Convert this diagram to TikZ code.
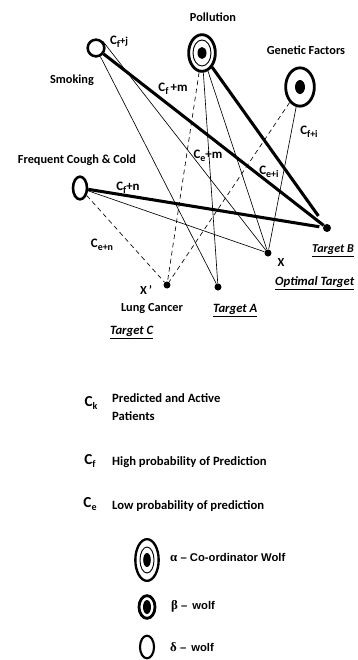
\documentclass[tikz,border=0pt]{standalone}
\usepackage{fontspec}
\setmainfont{Carlito}
\newfontfamily\arialfont{Liberation Sans}
\newfontfamily\greekfont{Liberation Serif}
\usepackage{tikz}
\usetikzlibrary{shapes.geometric, positioning}

\newcommand{\Cl}[2]{C\raisebox{-0.45ex}{\fontsize{8.5}{9}\selectfont #1}#2}

\tikzset{
    lbl/.style={font=\fontsize{10.5}{12}\selectfont\bfseries, inner sep=0pt},
    clbl/.style={font=\fontsize{11}{12}\selectfont\bfseries, inner sep=0pt},
    leg/.style={font=\fontsize{10.8}{13}\selectfont\bfseries, inner sep=0pt, anchor=west},
    tgt/.style={font=\fontsize{10.8}{12}\selectfont\bfseries\itshape, inner sep=0pt, anchor=west},
    wtxt/.style={font=\fontsize{9.6}{11}\selectfont\arialfont\bfseries, inner sep=0pt, anchor=west},
    dot/.style={circle, fill, inner sep=0pt, minimum size=0.21cm},
    wolf/.style={ellipse, draw, inner sep=0pt},
    thk/.style={line width=2.6pt},
    thn/.style={line width=0.55pt},
    dsh/.style={line width=0.55pt, dash pattern=on 4pt off 3pt}
}

\begin{document}
\begin{tikzpicture}[x=0.03cm, y=-0.03cm]
            \useasboundingbox (0,0) rectangle (357,660);

            % wolves
            \node[wolf, line width=2.2pt, minimum width=0.5cm, minimum height=0.5cm] (smk) at (96,48) {};
            \node[wolf, line width=2.4pt, minimum width=0.8cm, minimum height=1.1cm] (pol) at (202,53) {};
            \draw[line width=0.8pt] (pol.center) ellipse [x radius=9, y radius=13];
            \fill (pol.center) ellipse [x radius=4.5, y radius=6];
            \node[wolf, line width=2.4pt, minimum width=0.86cm, minimum height=1.15cm] (gen) at (300,87) {};
            \fill (gen.center) ellipse [x radius=5, y radius=7];
            \node[wolf, line width=2.2pt, minimum width=0.42cm, minimum height=0.68cm] (cgh) at (80,188) {};

            % targets
            \node[dot, minimum size=0.24cm] (tgB) at (327,228) {};
            \node[dot] (xopt) at (268,253) {};
            \node[dot] (xlc) at (167,285) {};
            \node[dot] (tgA) at (218,287) {};

            % thick links
            \draw[thk] (smk) -- (tgB);
            \draw[thk, shorten >=9pt] (pol) -- (tgB);
            \draw[thk, shorten >=3pt] (cgh) -- (tgB);

            % thin links
            \draw[thn] (smk) -- (tgA);
            \draw[thn] (smk.north east) -- (xopt);
            \draw[thn] (pol) -- (tgA);
            \draw[thn] (pol) -- (xopt);
            \draw[thn] (gen) -- (xopt);
            \draw[thn] (cgh) -- (xopt);

            % dashed links
            \draw[dsh] (pol) -- (xlc);
            \draw[dsh] (gen) -- (xlc);
            \draw[dsh] (cgh) -- (xlc);

            % labels
            \node[lbl] (lpol) at (213,17) {Pollution};
            \node[lbl] (lgen) at (306,50) {Genetic Factors};
            \node[lbl] (lsmk) at (72,80) {Smoking};
            \node[lbl] (lcgh) at (77,160) {Frequent Cough \& Cold};

            \node[clbl] (cfj) at (119,42) {\Cl{f}{\fontsize{9}{9}\selectfont+j}};
            \node[clbl] (cfm) at (173,89) {\Cl{f}{\,+m}};
            \node[clbl] (cem) at (208,156) {\Cl{e}{+m}};
            \node[clbl] (cei) at (269,172) {\Cl{e+i}{}};
            \node[clbl] (cfi) at (309,132) {\Cl{f+i}{}};
            \node[clbl] (cfn) at (128,188) {\Cl{f}{+n}};
            \node[clbl] (cen) at (102,245) {\Cl{e+n}{}};

            \node[lbl] (lx) at (281,263) {X};
            \node[lbl] (lxp) at (146,290) {X\,'};
            \node[lbl] (llc) at (152,309) {Lung Cancer};
            \node[tgt] (ltgC) at (110,333) {\underline{Target C}};
            \node[tgt] (ltgA) at (213,311) {\underline{Target A}};
            \node[tgt, font=\fontsize{10.3}{12}\selectfont\bfseries\itshape] (ltgB) at (312,251) {\underline{Target B}};
            \node[tgt] (lopt) at (275,283) {\underline{Optimal Target}};

            % legend
            \node[lbl, font=\fontsize{13}{14}\selectfont\bfseries] (ck) at (91,403) {\Cl{k}{}};
            \node[leg, align=left] (lck) at (112,407) {Predicted and Active\\[3pt]Patients};
            \node[lbl, font=\fontsize{13}{14}\selectfont\bfseries] (cf) at (90,461) {\Cl{f}{}};
            \node[leg] (lcf) at (112,462) {High probability of Prediction};
            \node[lbl, font=\fontsize{13}{14}\selectfont\bfseries] (ce) at (90,504) {\Cl{e}{}};
            \node[leg] (lce) at (112,506) {Low probability of prediction};

            \node[wolf, line width=2pt, minimum width=0.7cm, minimum height=1.25cm] (walpha) at (147,560) {};
            \draw[line width=0.8pt] (walpha.center) ellipse [x radius=7, y radius=13];
            \fill (walpha.center) ellipse [x radius=3.8, y radius=7];
            \node[wolf, line width=2.4pt, minimum width=0.48cm, minimum height=0.68cm] (wbeta) at (147,607) {};
            \fill (wbeta.center) ellipse [x radius=4, y radius=7];
            \node[wolf, line width=1.8pt, minimum width=0.42cm, minimum height=0.68cm] (wdelta) at (147,647) {};

            \node[wtxt] (lalpha) at (170,557) {{\greekfont\fontsize{11}{11}\selectfont α} \textendash{} Co-ordinator Wolf};
            \node[wtxt] (lbeta) at (171,606) {{\greekfont\fontsize{11}{11}\selectfont β} \textendash\ \,wolf};
            \node[wtxt] (ldelta) at (170,647) {{\greekfont\fontsize{11}{11}\selectfont δ} \textendash\ \,wolf};
        \end{tikzpicture}
\end{document}
